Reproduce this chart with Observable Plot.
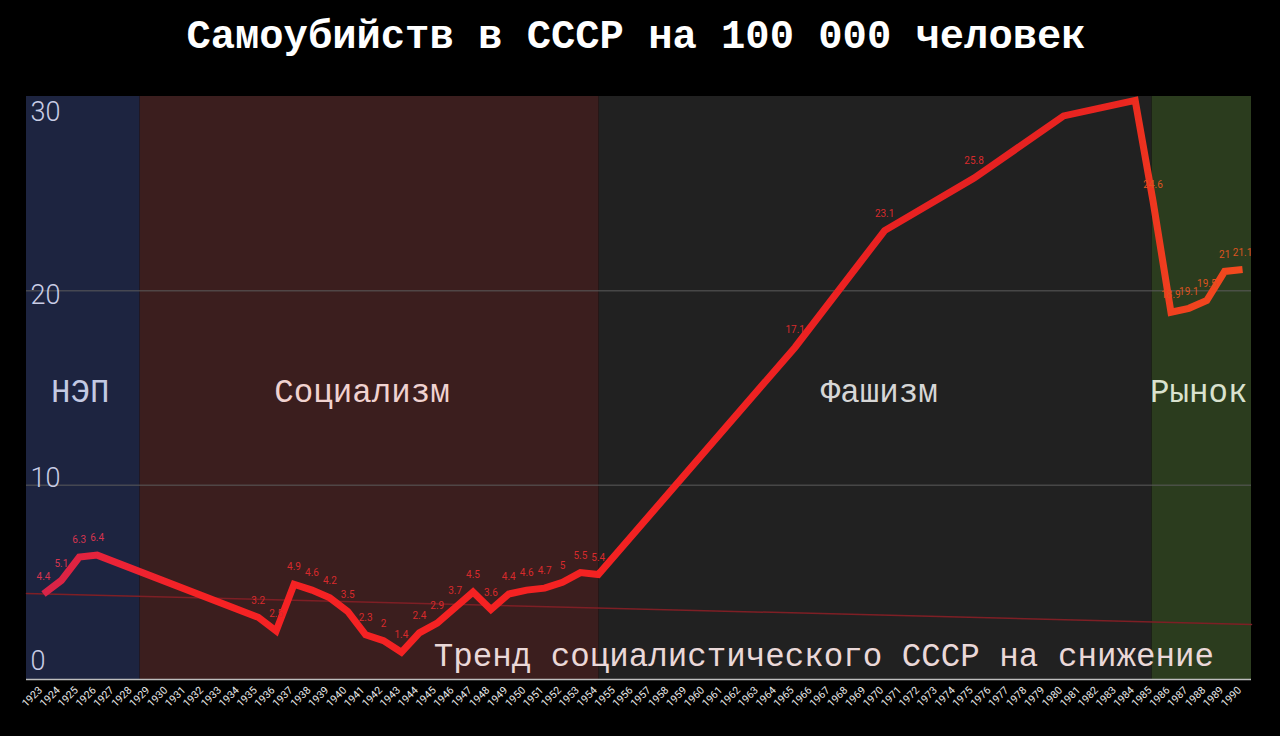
<!DOCTYPE html>
<html><head><meta charset="utf-8">
<script src="https://cdn.jsdelivr.net/npm/d3@7"></script>
<script src="https://cdn.jsdelivr.net/npm/@observablehq/plot@0.6"></script>
<style>
html,body{margin:0;padding:0;background:#000;width:1280px;height:736px;overflow:hidden}
#title{height:80px;line-height:74px;text-align:center;color:#fff;font-family:"Liberation Mono",monospace;font-weight:bold;font-size:40.5px;white-space:nowrap;padding-right:8px}
#chart svg{display:block}
</style></head><body>
<div id="title">Самоубийств в СССР на 100 000 человек</div>
<div id="chart"></div>
<script>
// Data
const years = [1923,1924,1925,1926,1935,1936,1937,1938,1939,1940,1941,1942,1943,1944,1945,1946,1947,1948,1949,1950,1951,1952,1953,1954,1965,1970,1975,1980,1984,1985,1986,1987,1988,1989,1990];
const rates = [4.4,5.1,6.3,6.4,3.2,2.5,4.9,4.6,4.2,3.5,2.3,2,1.4,2.4,2.9,3.7,4.5,3.6,4.4,4.6,4.7,5,5.5,5.4,17.1,23.1,25.8,29,29.8,24.6,18.9,19.1,19.5,21,21.1];
const unlabeledYears = [1980, 1984];
const regionNames = ["НЭП","Социализм","Фашизм","Рынок"];
const regionStart = [1922.05, 1928.4, 1954.05, 1984.95];
const regionEnd = [1928.4, 1954.05, 1984.95, 1990.5];
const regionLabelYears = [1925.05, 1940.8, 1969.7, 1987.55];
const regionLabelRate = 14.8;
const trendYears = [1922.05, 1990.5];
const trendRates = [4.43, 2.83];
const trendLabel = "Тренд социалистического СССР на снижение";
const trendLabelYear = 1988.4;
const trendLabelRate = 1.25;
const yTicks = [0, 10, 20, 30];
const tickYears = d3.range(1923, 1991);

// Styles
const regionFill = {"НЭП":"#1d2440","Социализм":"#3b1e1e","Фашизм":"#212121","Рынок":"#2b3c1e"};
const regionTextColor = {"НЭП":"#c3c9e2","Социализм":"#f0d2d0","Фашизм":"#d6d6d6","Рынок":"#d9e2cf"};

const data = years.map((year, i) => ({year, rate: rates[i]}));
const regions = regionNames.map((name, i) => ({name, start: regionStart[i], end: regionEnd[i], labelYear: regionLabelYears[i]}));
const trend = trendYears.map((year, i) => ({year, rate: trendRates[i]}));
const labeled = data.filter(d => !unlabeledYears.includes(d.year));

const labelColor = d => d.year < 1928 ? "#d6344f" : d.year < 1985 ? "#d82a2c" : "#dc5420";
const monoFont = "Liberation Mono, monospace";

const chart = Plot.plot({
  width: 1280, height: 656,
  marginTop: 16, marginBottom: 57, marginLeft: 26, marginRight: 29,
  style: {background: "#000", color: "#ddd", fontFamily: "Roboto, sans-serif"},
  x: {domain: [1922.05, 1990.5]},
  y: {domain: [0, 30], axis: null},
  marks: [
    Plot.rect(regions, {x1: "start", x2: "end", y1: 0, y2: 30, fill: d => regionFill[d.name]}),
    Plot.ruleY([10, 20], {stroke: "#5c5c5c", strokeWidth: 1}),
    Plot.line(trend, {x: "year", y: "rate", stroke: "#7e1f25", strokeWidth: 1.5}),
    Plot.ruleY([0], {stroke: "#bdbdbd", strokeWidth: 1.5}),
    Plot.axisX(tickYears, {tickSize: 0, tickRotate: -45, tickPadding: 9, dx: -3, tickFormat: d => String(d), fontSize: 10.5, fill: "#e8e8e8"}),
    ...yTicks.map(t => Plot.text([t], {y: d => d, frameAnchor: "left", dx: 4, textAnchor: "start", dy: -18 + 34 * (t / 30), text: d => String(d), fontSize: 27, fontWeight: 300, fill: "#c9cde6"})),
    Plot.text(regions, {x: "labelYear", y: () => regionLabelRate, text: "name", fontSize: 32.5, fontFamily: monoFont, fill: d => regionTextColor[d.name]}),
    Plot.text([trendLabel], {x: () => trendLabelYear, y: () => trendLabelRate, text: d => d, textAnchor: "end", fontSize: 32.5, fontFamily: monoFont, fill: "#ead8d8"}),
    Plot.line(data, {x: "year", y: "rate", stroke: "red", strokeWidth: 7, strokeLinejoin: "miter", strokeLinecap: "butt", strokeMiterlimit: 4, ariaDescription: "rate-line"}),
    Plot.text(labeled, {x: "year", y: "rate", text: d => String(d.rate), dy: -17, fontSize: 10, fill: labelColor})
  ]
});

document.getElementById("chart").appendChild(chart);

// gradient along the rate line
const svg = d3.select(chart);
const defs = svg.insert("defs", ":first-child");
const grad = defs.append("linearGradient").attr("id", "lineGrad").attr("x1", "0").attr("x2", "1").attr("y1", "0").attr("y2", "0");
const stops = [[0, "#d62449"], [0.05, "#e8233a"], [0.12, "#f52224"], [0.46, "#f42222"], [0.8, "#e52121"], [0.9, "#ea2620"], [0.94, "#f0401f"], [1, "#f24a1e"]];
stops.forEach(([o, c]) => grad.append("stop").attr("offset", o).attr("stop-color", c));
svg.selectAll('[aria-description="rate-line"]').attr("stroke", "url(#lineGrad)");
svg.selectAll('[aria-description="rate-line"] path').attr("stroke", "url(#lineGrad)");
</script>
</body></html>
